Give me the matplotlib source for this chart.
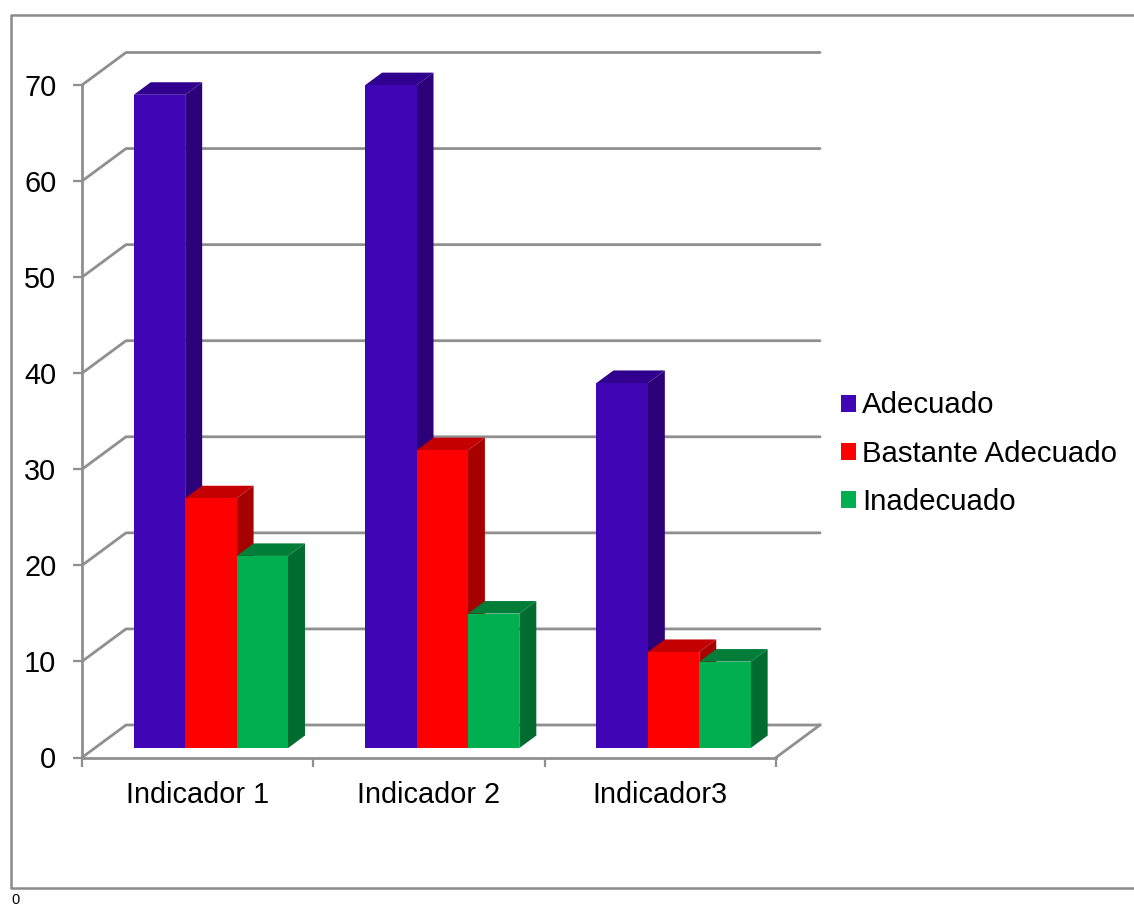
import matplotlib
matplotlib.use("Agg")
import matplotlib.pyplot as plt
from matplotlib.patches import Patch
from matplotlib.lines import Line2D

plt.rcParams['font.family'] = ['Liberation Sans', 'DejaVu Sans']

categories = ["Indicador 1", "Indicador 2", "Indicador3"]
adecuado = [68, 69, 38]
bastante = [26, 31, 10]
inadecuado = [20, 14, 9]
series_names = ["Adecuado", "Bastante Adecuado", "Inadecuado"]
yticks = [0, 10, 20, 30, 40, 50, 60, 70]

front_colors = ["#4006B6", "#FF0000", "#00B050"]
side_colors = ["#2B0079", "#A60000", "#006C30"]
top_colors = ["#30008E", "#C40000", "#007D38"]
GREY = "#8F8F8F"
W, H = 1134, 907

fig = plt.figure(figsize=(W / 100, H / 100), dpi=100, facecolor="white")
ax = fig.add_axes([82 / W, (H - 757.5) / H, 694 / W, 672.5 / H])
ax.set_xlim(0, 3)
ax.set_ylim(0, 70)
ax.set_facecolor("none")

# depth of the pseudo-3D box, in data units
DX = 44 / (694 / 3)
DY = 32.5 / (672.5 / 70)
LW = 2.0

# walls and floor
for v in yticks:
    ax.plot([0, DX, 3 + DX], [v, v + DY, v + DY], color=GREY, lw=LW, clip_on=False, zorder=1,
            solid_capstyle="round", solid_joinstyle="round")
ax.plot([3, 3 + DX], [0, DY], color=GREY, lw=LW, clip_on=False, zorder=1)

# bars
bw = 1 / 4.5
f0, f1 = 0.29, 0.676
series = [adecuado, bastante, inadecuado]
for i in range(len(categories)):
    for j, vals in enumerate(series):
        v = vals[i]
        x0 = i + 1 / 6 + j * bw + f0 * DX + 0.002
        x1 = x0 + bw
        y0 = f0 * DY
        y1 = v + f0 * DY
        ddx = (f1 - f0) * DX
        ddy = (f1 - f0) * DY
        ax.fill([x1, x1 + ddx, x1 + ddx, x1], [y0, y0 + ddy, y1 + ddy, y1],
                color=side_colors[j], lw=0, clip_on=False, zorder=3 + j)
        ax.fill([x0, x0 + ddx, x1 + ddx, x1], [y1, y1 + ddy, y1 + ddy, y1],
                color=top_colors[j], lw=0, clip_on=False, zorder=3 + j)
        ax.fill([x0, x1, x1, x0], [y0, y0, y1, y1],
                color=front_colors[j], lw=0, clip_on=False, zorder=3 + j)

# axes
for s in ("top", "right"):
    ax.spines[s].set_visible(False)
for s in ("left", "bottom"):
    ax.spines[s].set_color(GREY)
    ax.spines[s].set_linewidth(LW)
    ax.spines[s].set_zorder(2)
ax.set_yticks(yticks)
ax.set_xticks(range(len(categories) + 1))
ax.set_xticklabels([])
ax.set_xticks([i + 0.5 for i in range(len(categories))], minor=True)
ax.set_xticklabels(categories, minor=True, fontsize=20.8, color="black")
ax.tick_params(axis="y", length=6.5, width=1.6, color=GREY, pad=12, labelsize=20.8, labelcolor="black")
ax.tick_params(axis="x", which="major", length=6.5, width=1.6, color=GREY)
ax.tick_params(axis="x", which="minor", length=0, pad=17)

# legend
handles = [Patch(facecolor=c, edgecolor="none", label=n) for c, n in zip(front_colors, series_names)]
fig.legend(handles=handles, loc="center left", bbox_to_anchor=(841 / W, (H - 453.5) / H),
           frameon=False, fontsize=21.2, handlelength=0.51, handleheight=0.51,
           handletextpad=0.21, labelspacing=0.68, borderpad=0, borderaxespad=0)

# chart-area border (right side runs off the picture)
fig.add_artist(Line2D([1, 11 / W, 11 / W, 1],
                      [(H - 15) / H, (H - 15) / H, (H - 888) / H, (H - 888) / H],
                      color="#8A8A8A", lw=1.8, transform=fig.transFigure))

# stray label under the border
fig.text(11 / W, 0.5 / H, "0", fontsize=10.5, color="black", va="bottom", ha="left")

fig.savefig("out.png", dpi=100, facecolor="white")
